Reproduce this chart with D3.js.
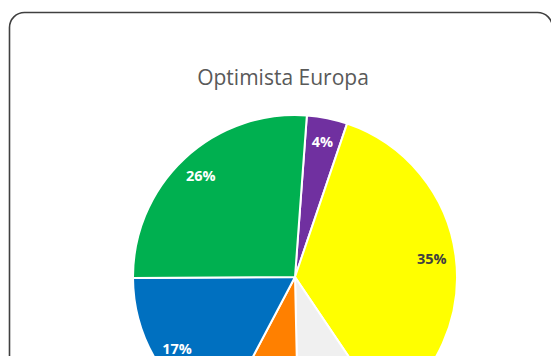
<!DOCTYPE html>
<html>
<head>
<meta charset="utf-8">
<script src="https://cdn.jsdelivr.net/npm/d3@7"></script>
<style>
  html, body { margin: 0; padding: 0; background: #ffffff; overflow: hidden; }
  svg { display: block; }
</style>
</head>
<body>
<svg id="chart" width="551" height="356"></svg>
<script>
// Share of each group, clockwise from the top
const categories = ["Morado", "Amarillo", "Gris", "Naranja", "Azul", "Verde"];
const values = [4, 35, 9, 8, 17, 26];
const colors = ["#7030a0", "#ffff00", "#f0f0f0", "#ff8000", "#0070c0", "#00b050"];
const labelColors = ["#ffffff", "#404040", "#404040", "#ffffff", "#ffffff", "#ffffff"];
const title = "Optimista Europa";

const W = 551, H = 356;
const cx = 295, cy = 277, radius = 162;
const startDeg = 4.2;

const svg = d3.select("#chart");

// Chart frame
svg.append("rect")
  .attr("x", 9.5).attr("y", 12.5)
  .attr("width", 543).attr("height", 420)
  .attr("rx", 15).attr("ry", 15)
  .attr("fill", "#ffffff")
  .attr("stroke", "#404040")
  .attr("stroke-width", 1.6);

svg.append("text")
  .attr("x", 283).attr("y", 85)
  .attr("text-anchor", "middle")
  .attr("font-family", "'Open Sans', sans-serif")
  .attr("font-size", 21)
  .attr("fill", "#595959")
  .text(title);

const total = d3.sum(values);
const data = categories.map((c, i) => ({ name: c, value: values[i], i }));

const pie = d3.pie()
  .value(d => d.value)
  .sort(null)
  .startAngle(startDeg * Math.PI / 180)
  .endAngle((startDeg + 360) * Math.PI / 180);

const arc = d3.arc().innerRadius(0).outerRadius(radius);
const labelArc = d3.arc().innerRadius(138).outerRadius(138);

const g = svg.append("g").attr("transform", `translate(${cx},${cy})`);
const arcs = pie(data);

g.selectAll("path.slice")
  .data(arcs)
  .join("path")
  .attr("class", "slice")
  .attr("d", arc)
  .attr("fill", d => colors[d.data.i])
  .attr("stroke", "#ffffff")
  .attr("stroke-width", 2)
  .attr("stroke-linejoin", "round");

const fmt = d3.format(".0%");
g.selectAll("text.lbl")
  .data(arcs)
  .join("text")
  .attr("class", "lbl")
  .attr("transform", d => `translate(${labelArc.centroid(d)})`)
  .attr("text-anchor", "middle")
  .attr("dy", "0.35em")
  .attr("font-family", "'Open Sans', sans-serif")
  .attr("font-weight", "bold")
  .attr("font-size", 14.5)
  .attr("fill", d => labelColors[d.data.i])
  .text(d => fmt(d.data.value / total));
</script>
</body>
</html>
